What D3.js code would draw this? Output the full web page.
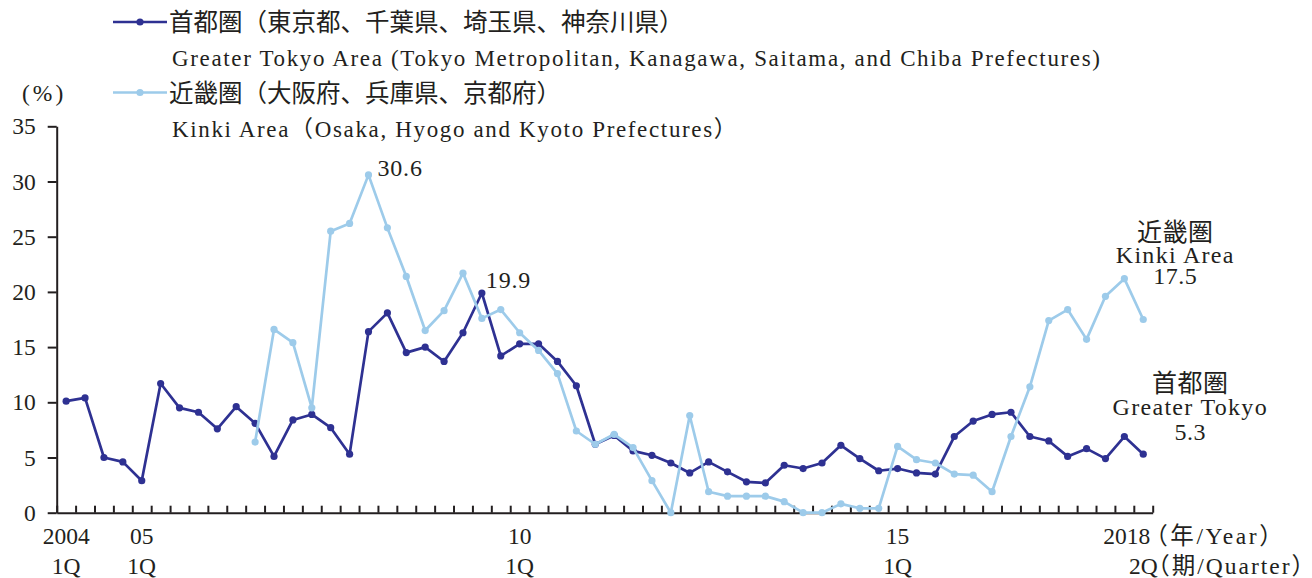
<!DOCTYPE html>
<html>
<head>
<meta charset="utf-8">
<script src="https://cdn.jsdelivr.net/npm/d3@7"></script>
<style>
  body { margin: 0; background: #fff; }
  text { font-family: "Liberation Serif", "Noto Sans CJK JP", serif; fill: #231f20; }
</style>
</head>
<body>
<svg id="chart" width="1312" height="578"></svg>
<script>
// quarters, 2004 1Q .. 2018 2Q
const quarters = [
  "2004Q1","2004Q2","2004Q3","2004Q4","2005Q1","2005Q2","2005Q3","2005Q4",
  "2006Q1","2006Q2","2006Q3","2006Q4","2007Q1","2007Q2","2007Q3","2007Q4",
  "2008Q1","2008Q2","2008Q3","2008Q4","2009Q1","2009Q2","2009Q3","2009Q4",
  "2010Q1","2010Q2","2010Q3","2010Q4","2011Q1","2011Q2","2011Q3","2011Q4",
  "2012Q1","2012Q2","2012Q3","2012Q4","2013Q1","2013Q2","2013Q3","2013Q4",
  "2014Q1","2014Q2","2014Q3","2014Q4","2015Q1","2015Q2","2015Q3","2015Q4",
  "2016Q1","2016Q2","2016Q3","2016Q4","2017Q1","2017Q2","2017Q3","2017Q4",
  "2018Q1","2018Q2"
];

const tokyo = [
  10.1, 10.4, 5.0, 4.6, 2.9, 11.7, 9.5, 9.1, 7.6, 9.6,
  8.1, 5.1, 8.4, 8.9, 7.7, 5.3, 16.4, 18.1, 14.5, 15.0,
  13.7, 16.3, 19.9, 14.2, 15.3, 15.3, 13.7, 11.5, 6.2, 7.0,
  5.6, 5.2, 4.5, 3.6, 4.6, 3.7, 2.8, 2.7, 4.3, 4.0,
  4.5, 6.1, 4.9, 3.8, 4.0, 3.6, 3.5, 6.9, 8.3, 8.9,
  9.1, 6.9, 6.5, 5.1, 5.8, 4.9, 6.9, 5.3
];

const kinki = [
  null, null, null, null, null, null, null, null, null, null,
  6.4, 16.6, 15.4, 9.5, 25.5, 26.2, 30.6, 25.8, 21.4, 16.5,
  18.3, 21.7, 17.6, 18.4, 16.3, 14.7, 12.6, 7.4, 6.2, 7.1,
  5.9, 2.9, 0.0, 8.8, 1.9, 1.5, 1.5, 1.5, 1.0, 0.0,
  0.0, 0.8, 0.4, 0.4, 6.0, 4.8, 4.5, 3.5, 3.4, 1.9,
  6.9, 11.4, 17.4, 18.4, 15.7, 19.6, 21.2, 17.5
];

const yTicks = [0, 5, 10, 15, 20, 25, 30, 35];
const yearLabels = {"2004Q1": "2004", "2005Q1": "05", "2010Q1": "10", "2015Q1": "15", "2018Q2": "2018"};
const quarterLabels = {"2004Q1": "1Q", "2005Q1": "1Q", "2010Q1": "1Q", "2015Q1": "1Q", "2018Q2": "2Q"};

const series = [
  {key: "tokyo", values: tokyo, color: "#2e3192",
   legend: ["首都圏（東京都、千葉県、埼玉県、神奈川県）", "Greater Tokyo Area (Tokyo Metropolitan, Kanagawa, Saitama, and Chiba Prefectures)"],
   end: ["首都圏", "Greater Tokyo"]},
  {key: "kinki", values: kinki, color: "#9dcbea",
   legend: ["近畿圏（大阪府、兵庫県、京都府）", "Kinki Area（Osaka, Hyogo and Kyoto Prefectures）"],
   end: ["近畿圏", "Kinki Area"]}
];

const svg = d3.select("#chart");
const axisColor = "#231f20";
const plot = {left: 56.7, right: 1152.7, top: 126.3, bottom: 512.7};

const xi = d3.scaleLinear().domain([0, quarters.length]).range([plot.left, plot.right]);
const xc = d => xi(quarters.indexOf(d) + 0.5);
const y = d3.scaleLinear().domain([0, 35]).range([plot.bottom, plot.top]);

// y axis
const yAxis = svg.append("g")
  .attr("transform", `translate(${plot.left},0)`)
  .call(d3.axisLeft(y).tickValues(yTicks).tickSize(9).tickSizeOuter(0).tickPadding(12));
yAxis.attr("font-family", null).attr("font-size", null);
yAxis.selectAll("text").attr("font-size", 23.5);

// x axis: ticks on the quarter boundaries, pointing up
const xAxis = svg.append("g")
  .attr("transform", `translate(0,${plot.bottom})`)
  .call(d3.axisBottom(xi).tickValues(d3.range(quarters.length + 1)).tickSizeInner(-7).tickSizeOuter(0).tickFormat(""));

svg.selectAll(".domain, .tick line").attr("stroke", axisColor).attr("stroke-width", 2);

// x labels
const labelRow = (labels, yPos) => {
  svg.append("g").selectAll("text")
    .data(Object.keys(labels))
    .join("text")
    .attr("x", d => xc(d))
    .attr("y", yPos)
    .attr("text-anchor", "middle")
    .attr("font-size", 23.5)
    .text(d => labels[d]);
};
labelRow(yearLabels, 544);
labelRow(quarterLabels, 574);

// the last year label sits left of its quarter, units follow
svg.selectAll("text").filter(function () { return this.textContent === "2018"; })
  .attr("x", xc("2018Q2") + 7).attr("text-anchor", "end");
svg.append("text").attr("x", xc("2018Q2") + 1).attr("y", 544).attr("font-size", 23.5)
  .attr("letter-spacing", 2.6).text("（年/Year）");
svg.append("text").attr("x", xc("2018Q2") + 3).attr("y", 574).attr("font-size", 23.5)
  .attr("letter-spacing", 2).text("（期/Quarter）");

svg.append("text").attr("x", 22).attr("y", 101).attr("font-size", 23.5)
  .attr("letter-spacing", 3).text("(%)");

// lines and markers
const line = d3.line()
  .defined(d => d.v != null)
  .x(d => xc(d.q))
  .y(d => y(d.v));

series.forEach(s => {
  const pts = quarters.map((q, i) => ({q, v: s.values[i]}));
  svg.append("path")
    .datum(pts)
    .attr("fill", "none")
    .attr("stroke", s.color)
    .attr("stroke-width", 2.7)
    .attr("stroke-linejoin", "round")
    .attr("d", line);
  svg.append("g").selectAll("circle")
    .data(pts.filter(d => d.v != null))
    .join("circle")
    .attr("cx", d => xc(d.q))
    .attr("cy", d => y(d.v))
    .attr("r", 3.6)
    .attr("fill", s.color);
});

// peak labels
const peaks = [
  {s: kinki, q: "2008Q1", dx: 9, dy: 1},
  {s: tokyo, q: "2009Q3", dx: 4, dy: -5}
];
peaks.forEach(p => {
  const v = p.s[quarters.indexOf(p.q)];
  svg.append("text")
    .attr("x", xc(p.q) + p.dx)
    .attr("y", y(v) + p.dy)
    .attr("font-size", 24)
    .attr("letter-spacing", 0.8)
    .text(v.toFixed(1));
});

// end labels
const last = quarters[quarters.length - 1];
const endPos = {kinki: {dx: 32, dys: [-79, -57, -36]}, tokyo: {dx: 47, dys: [-62, -39, -14]}};
series.forEach(s => {
  const v = s.values[s.values.length - 1];
  const pos = endPos[s.key];
  const lines = [s.end[0], s.end[1], v.toFixed(1)];
  svg.append("g").selectAll("text")
    .data(lines)
    .join("text")
    .attr("x", xc(last) + pos.dx)
    .attr("y", (d, i) => y(v) + pos.dys[i])
    .attr("text-anchor", "middle")
    .attr("font-size", (d, i) => i === 0 ? 25 : 24)
    .attr("letter-spacing", (d, i) => i === 1 ? 1.3 : 0.5)
    .text(d => d);
});

// legend
const legend = svg.append("g");
series.forEach((s, i) => {
  const ly = 22 + i * 70.5;
  legend.append("line").attr("x1", 113).attr("x2", 167).attr("y1", ly).attr("y2", ly)
    .attr("stroke", s.color).attr("stroke-width", 2.7);
  legend.append("circle").attr("cx", 140).attr("cy", ly).attr("r", 3.6).attr("fill", s.color);
  legend.append("text").attr("x", 169).attr("y", ly + 9).attr("font-size", 24.5).text(s.legend[0]);
  legend.append("text").attr("x", 172).attr("y", ly + 44).attr("font-size", 23)
    .attr("letter-spacing", 1.65).text(s.legend[1]);
});
</script>
</body>
</html>
